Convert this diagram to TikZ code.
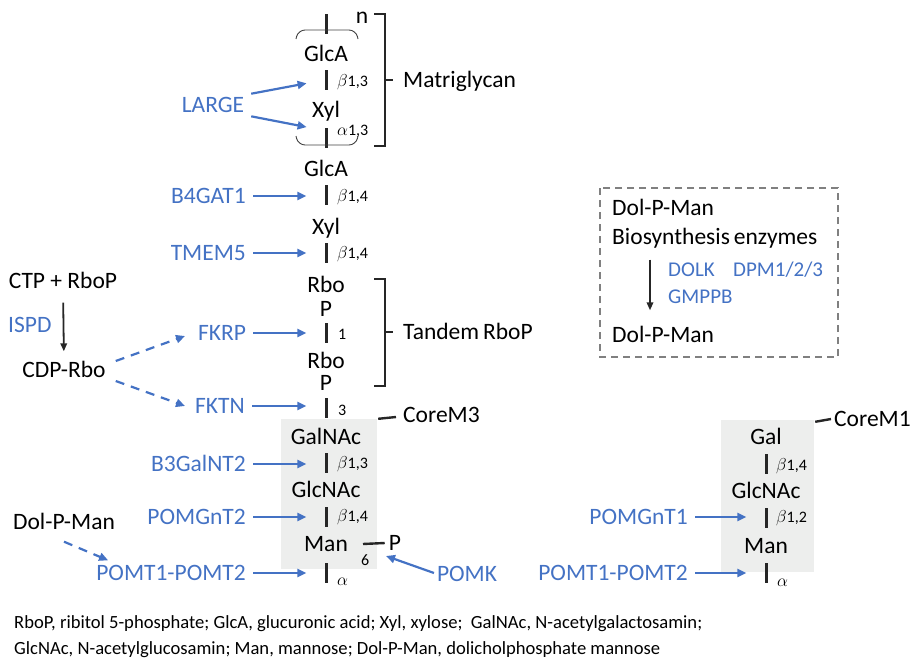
\documentclass[tikz,border=0pt]{standalone}
\usepackage{fontspec}
\setmainfont{Carlito}
\usetikzlibrary{arrows.meta,positioning}
\definecolor{enzblue}{RGB}{68,114,196}
\definecolor{coregray}{RGB}{237,238,237}
\definecolor{boxgray}{RGB}{128,128,128}

\begin{document}
\begin{tikzpicture}[x=1pt,y=-1pt,
  sugar/.style={font=\fontsize{23.5}{26}\selectfont, inner sep=0pt, text height=15pt, text depth=0pt},
  enzyme/.style={sugar, text=enzblue},
  enzsmall/.style={enzyme, font=\fontsize{21}{24}\selectfont, text height=13.5pt},
  bondlbl/.style={font=\fontsize{16}{18}\selectfont, inner sep=0pt, anchor=west},
  bar/.style={fill=black!85, inner sep=0pt, minimum width=3pt, minimum height=20pt},
  bracket/.style={line width=2.4pt, black!85},
  paren/.style={line width=0.9pt, black!75, rounded corners=7pt},
  enz/.style={enzblue, line width=2.2pt, -{Triangle[length=9pt,width=8pt]}, shorten <=7pt, shorten >=18pt},
  dashenz/.style={enz, dash pattern=on 9pt off 7pt, shorten <=0pt, shorten >=0pt},
  blk/.style={black!85, line width=1.8pt, -{Triangle[length=8pt,width=6.5pt]}},
  corebox/.style={fill=coregray, draw=none, inner sep=0pt},
  note/.style={font=\fontsize{18.6}{20}\selectfont, inner sep=0pt, anchor=west},
]
\useasboundingbox (0,0) rectangle (916,661);

% core boxes
\node[corebox, minimum width=96pt, minimum height=150pt] (core3) at (329,494) {};
\node[corebox, minimum width=93pt, minimum height=152pt] (core1) at (767.5,496) {};

% main chain
\node[bar] (g0) at (326,24) {};
\node[sugar] (glca1) at (326,54) {GlcA};
\node[bar] (g1) at (326,80) {};
\node[sugar] (xyl1) at (326,110) {Xyl};
\node[bar] (g2) at (326,137.5) {};
\node[sugar] (glca2) at (326,168.5) {GlcA};
\node[bar] (g3) at (326,195) {};
\node[sugar] (xyl2) at (326,226.5) {Xyl};
\node[bar] (g4) at (326,253) {};
\node[sugar] (rbo1) at (326,285) {Rbo};
\node[sugar] (p1) at (326,308.5) {P};
\node[bar] (g5) at (326,333) {};
\node[sugar] (rbo2) at (326,360.5) {Rbo};
\node[sugar] (p2) at (326,383) {P};
\node[bar] (g6) at (326,407.5) {};
\node[sugar] (galnac) at (326,437) {GalNAc};
\node[bar] (g7) at (326,463) {};
\node[sugar] (glcnac3) at (326,490) {GlcNAc};
\node[bar] (g8) at (326,517) {};
\node[sugar] (man3) at (326,544) {Man};
\node[bar] (g9) at (326,573) {};

\node[bondlbl] at (337,82) {$\beta$1,3};
\node[bondlbl] at (337,131) {$\alpha$1,3};
\node[bondlbl] at (337,197) {$\beta$1,4};
\node[bondlbl] at (337,254) {$\beta$1,4};
\node[bondlbl] at (338,334) {1};
\node[bondlbl] at (338,410) {3};
\node[bondlbl] at (337,464) {$\beta$1,3};
\node[bondlbl] at (337,517) {$\beta$1,4};
\node[bondlbl] at (337,582) {$\alpha$};

% repeat unit
\draw[paren] (296,39) -- (298,30) -- (356,30) -- (358,39);
\draw[paren] (296,136) -- (298,145) -- (356,145) -- (358,136);
\node[sugar] (n) at (362,16) {n};
\draw[bracket] (374,14) -- (385,14) -- (385,146) -- (374,146);
\node[sugar, anchor=west] (matri) at (403,80) {Matriglycan};
\draw[bracket] (385,80) -- (matri.west -| 393,0);
\draw[bracket] (374,279) -- (385,279) -- (385,386) -- (374,386);
\node[sugar, anchor=west] (tandem) at (403,332) {Tandem\,RboP};
\draw[bracket] (385,332) -- (tandem.west -| 393,0);

% phosphate on Man
\node[sugar] (pm) at (395,543) {P};
\draw[bracket] (363,544) -- ([xshift=-4pt]pm.west);
\node[bondlbl] (six) at (361,560) {6};
\coordinate (pk) at (386,556);

\node[sugar, anchor=west] (corem3) at (403,415) {CoreM3};
\draw[bracket] ([xshift=1pt]core3.north east) -- ([xshift=-7pt,yshift=-2pt]corem3.west);

% enzymes
\node[enzyme] (large) at (213,105) {LARGE};
\node[enzyme, anchor=east] (b4gat1) at (246,196) {B4GAT1};
\node[enzyme, anchor=east] (tmem5) at (246,253) {TMEM5};
\node[enzyme, anchor=west] (fkrp) at (198,333) {FKRP};
\node[enzyme, anchor=west] (fktn) at (195,406) {FKTN};
\node[enzyme, anchor=east] (b3galnt2) at (246,464) {B3GalNT2};
\node[enzyme, anchor=east] (pomgnt2) at (246,517) {POMGnT2};
\node[enzyme, anchor=east] (pomtA) at (246,573) {POMT1-POMT2};
\node[enzyme] (pomk) at (467,574) {POMK};

\draw[enz] ([yshift=10pt]large.east) -- (g1.west);
\draw[enz] ([yshift=-10pt]large.east) -- ([yshift=7pt]g2.west);
\draw[enz] (b4gat1.east) -- (b4gat1.east -| g3.west);
\draw[enz] (tmem5.east) -- (tmem5.east -| g4.west);
\draw[enz] (fkrp.east) -- (fkrp.east -| g5.west);
\draw[enz] (fktn.east) -- (fktn.east -| g6.west);
\draw[enz] (b3galnt2.east) -- (b3galnt2.east -| g7.west);
\draw[enz] (pomgnt2.east) -- (pomgnt2.east -| g8.west);
\draw[enz] (pomtA.east) -- (pomtA.east -| g9.west);
\draw[enz, shorten <=3pt, shorten >=0pt] (pomk.west) -- (pk);

% CDP-Rbo supply
\node[sugar] (ctp) at (63,281) {CTP + RboP};
\node[enzyme, anchor=west] (ispd) at (8,325) {ISPD};
\node[sugar] (cdp) at (64,370) {CDP-Rbo};
\draw[blk, shorten <=14pt, shorten >=11pt] (ctp.south) -- (cdp.north);
\draw[dashenz] ([shift={(10pt,9pt)}]cdp.east) -- ([shift={(-13pt,-3pt)}]fkrp.west);
\draw[dashenz] ([shift={(10pt,-11pt)}]cdp.east) -- ([shift={(-10pt,0pt)}]fktn.west);

\node[sugar] (dpm2) at (64,522) {Dol-P-Man};
\draw[dashenz] ([yshift=-12pt]dpm2.south) -- ([shift={(12pt,5pt)}]pomtA.north west);

% Dol-P-Man biosynthesis
\draw[boxgray, line width=1.8pt, dash pattern=on 7pt off 5pt] (600,188) rectangle (838,357);
\node[sugar, anchor=west] (dpm1) at (612,208) {Dol-P-Man};
\node[sugar, anchor=west] (bio) at (612,237) {Biosynthesis\,enzymes};
\node[enzsmall, anchor=west] (dolk) at (668,270) {DOLK};
\node[enzsmall, anchor=west] (dpm123) at (733,270) {DPM1/2/3};
\node[enzsmall, anchor=west] (gmppb) at (668,297) {GMPPB};
\node[sugar, anchor=west] (dpmout) at (612,335) {Dol-P-Man};
\draw[blk, shorten <=15pt, shorten >=17pt] ([xshift=38pt]bio.south west) -- ([xshift=38pt]dpmout.north west);

% CoreM1
\node[sugar] (gal) at (766,437) {Gal};
\node[bar] (h1) at (766,464) {};
\node[sugar] (glcnac1) at (766,491) {GlcNAc};
\node[bar] (h2) at (766,518) {};
\node[sugar] (man1) at (766,546) {Man};
\node[bar] (h3) at (766,573) {};
\node[bondlbl] at (776,466) {$\beta$1,4};
\node[bondlbl] at (776,518) {$\beta$1,2};
\node[bondlbl] at (777,583) {$\alpha$};
\node[sugar, anchor=west] (corem1) at (834,419) {CoreM1};
\draw[bracket] ([xshift=1pt,yshift=-2pt]core1.north east) -- ([xshift=-3pt]corem1.west);

\node[enzyme, anchor=east] (pomgnt1) at (688,517) {POMGnT1};
\node[enzyme, anchor=east] (pomtB) at (688,573) {POMT1-POMT2};
\draw[enz] (pomgnt1.east) -- (pomgnt1.east -| h2.west);
\draw[enz] (pomtB.east) -- (pomtB.east -| h3.west);

% abbreviations
\node[note] (ab1) at (14,624) {RboP, ribitol 5-phosphate; GlcA, glucuronic acid; Xyl, xylose;\ \ GalNAc, N-acetylgalactosamin;};
\node[note] (ab2) at (14,650) {GlcNAc, N-acetylglucosamin; Man, mannose; Dol-P-Man, dolicholphosphate mannose};
\end{tikzpicture}
\end{document}
